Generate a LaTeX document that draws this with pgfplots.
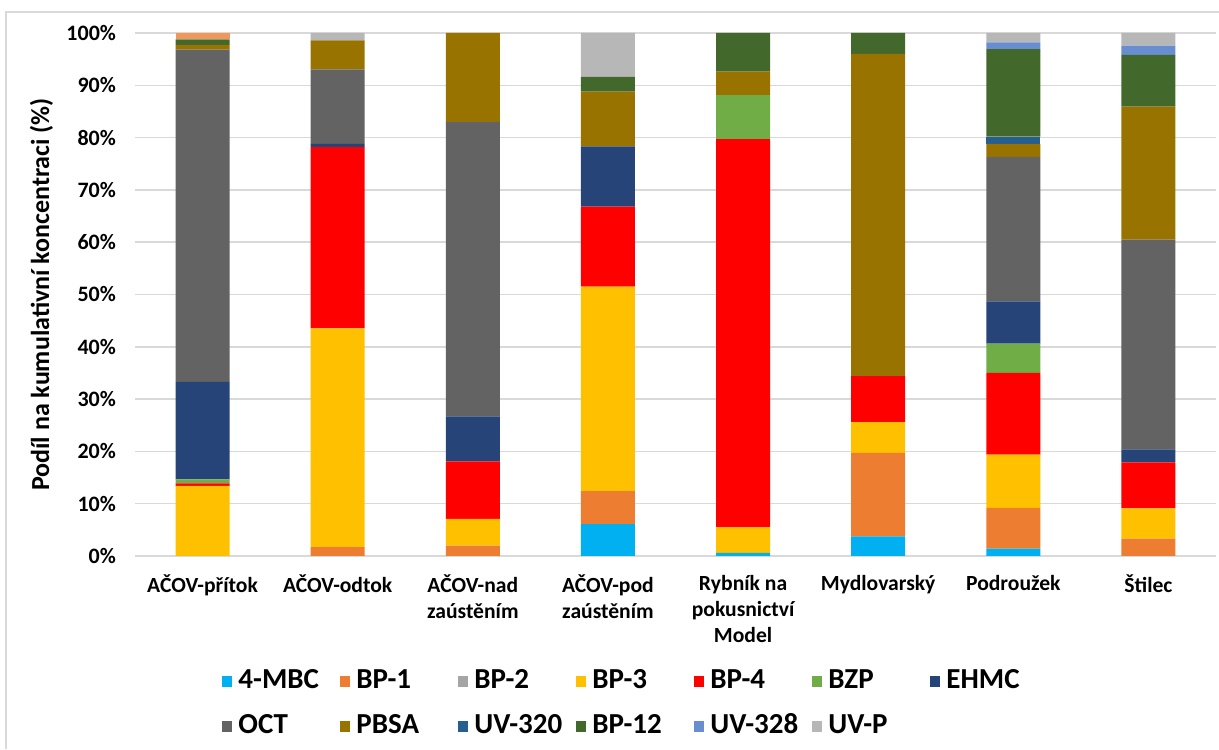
\documentclass[border=0pt]{standalone}
\usepackage{fontspec}
\setmainfont{Carlito}
\usepackage{pgfplots}
\pgfplotsset{compat=1.18}
\usepackage{pgfplotstable}

\definecolor{cMBC}{HTML}{00B0F0}
\definecolor{cBPa}{HTML}{ED7D31}
\definecolor{cBPb}{HTML}{A5A5A5}
\definecolor{cBPc}{HTML}{FFC000}
\definecolor{cBPd}{HTML}{FF0000}
\definecolor{cBZP}{HTML}{70AD47}
\definecolor{cEHMC}{HTML}{264478}
\definecolor{cOCT}{HTML}{636363}
\definecolor{cPBSA}{HTML}{997300}
\definecolor{cUVa}{HTML}{255E91}
\definecolor{cBPl}{HTML}{43682B}
\definecolor{cUVb}{HTML}{698ED0}
\definecolor{cUVP}{HTML}{B7B7B7}
\definecolor{cExtra}{HTML}{F1975A}
\definecolor{gridgray}{HTML}{D9D9D9}

% shares (%) per site, bottom to top
\pgfplotstableread{
x MBC BPa BPb BPc BPd BZP EHMC OCT PBSA UVa BPl UVb UVP Extra
0 0 0 0 13.4 0.5 0.75 18.65 63.5 0.95 0 1.05 0 0 1.2
1 0 1.7 0 41.8 34.7 0 0.6 14.25 5.55 0 0 0 1.4 0
2 0 2.0 0 5.1 11.0 0 8.6 56.3 17.0 0 0 0 0 0
3 6.1 6.3 0 39.1 15.3 0 11.5 0 10.5 0 2.8 0 8.4 0
4 0.6 0 0 4.9 74.2 8.4 0 0 4.5 0 7.4 0 0 0
5 3.75 15.95 0 5.9 8.8 0 0 0 61.6 0 4.0 0 0 0
6 1.4 7.8 0 10.2 15.6 5.6 8.1 27.6 2.5 1.4 16.7 1.3 1.8 0
7 0 3.3 0 5.8 8.8 0 2.5 40.1 25.4 0 9.9 1.8 2.4 0
}\data

\begin{document}
\begin{tikzpicture}
\useasboundingbox (0,0) rectangle (609.5pt,374.5pt);
% chart frame (left and top edges)
\draw[gridgray, line width=0.6pt] (3pt,0) -- (3pt,368.5pt) -- (609.5pt,368.5pt);
\begin{axis}[
  at={(67.5pt,96.5pt)}, anchor=south west,
  scale only axis, width=540.5pt, height=261.5pt,
  ybar stacked, bar width=27pt,
  xmin=-0.5, xmax=7.5, ymin=0, ymax=100,
  xtick={0,...,7},
  xticklabels={AČOV-přítok, AČOV-odtok, {AČOV-nad\\zaústěním}, {AČOV-pod\\zaústěním},
    {Rybník na\\pokusnictví\\Model}, Mydlovarský, Podroužek, Štilec},
  ytick={0,10,...,100},
  yticklabels={0\%,10\%,20\%,30\%,40\%,50\%,60\%,70\%,80\%,90\%,100\%},
  xticklabel style={font=\bfseries\fontsize{10.8}{13}\selectfont, align=center, yshift=-6pt},
  yticklabel style={font=\bfseries\fontsize{11}{13}\selectfont, xshift=-6pt},
  ylabel={Podíl na kumulativní koncentraci (\%)},
  ylabel style={font=\bfseries\fontsize{13}{15}\selectfont, at={(axis description cs:-0.0865,0.5)}, anchor=center},
  ymajorgrids, major grid style={draw=gridgray, line width=0.75pt},
  axis line style={draw=none}, major tick length=0pt,
  legend image code/.code={\fill[#1] (0pt,-2.75pt) rectangle (5pt,2.75pt);},
  legend columns=7,
  legend style={at={(axis description cs:0.075,-0.207)}, anchor=north west, draw=none,
    font=\bfseries\fontsize{14.5}{17}\selectfont,
    column sep=3pt, row sep=9.5pt,
    nodes={inner sep=0pt, text height=10pt, text depth=3pt},
    /tikz/every even column/.append style={text width=48pt, align=left}},
  legend cell align=left,
]
\addplot[fill=cMBC, draw=none] table[x=x, y=MBC] {\data}; \addlegendentry{4-MBC}
\addplot[fill=cBPa, draw=none] table[x=x, y=BPa] {\data}; \addlegendentry{BP-1}
\addplot[fill=cBPb, draw=none] table[x=x, y=BPb] {\data}; \addlegendentry{BP-2}
\addplot[fill=cBPc, draw=none] table[x=x, y=BPc] {\data}; \addlegendentry{BP-3}
\addplot[fill=cBPd, draw=none] table[x=x, y=BPd] {\data}; \addlegendentry{BP-4}
\addplot[fill=cBZP, draw=none] table[x=x, y=BZP] {\data}; \addlegendentry{BZP}
\addplot[fill=cEHMC, draw=none] table[x=x, y=EHMC] {\data}; \addlegendentry{EHMC}
\addplot[fill=cOCT, draw=none] table[x=x, y=OCT] {\data}; \addlegendentry{OCT}
\addplot[fill=cPBSA, draw=none] table[x=x, y=PBSA] {\data}; \addlegendentry{PBSA}
\addplot[fill=cUVa, draw=none] table[x=x, y=UVa] {\data}; \addlegendentry{UV-320}
\addplot[fill=cBPl, draw=none] table[x=x, y=BPl] {\data}; \addlegendentry{BP-12}
\addplot[fill=cUVb, draw=none] table[x=x, y=UVb] {\data}; \addlegendentry{UV-328}
\addplot[fill=cUVP, draw=none] table[x=x, y=UVP] {\data}; \addlegendentry{UV-P}
\addplot[fill=cExtra, draw=none] table[x=x, y=Extra] {\data};
\end{axis}
\end{tikzpicture}
\end{document}
